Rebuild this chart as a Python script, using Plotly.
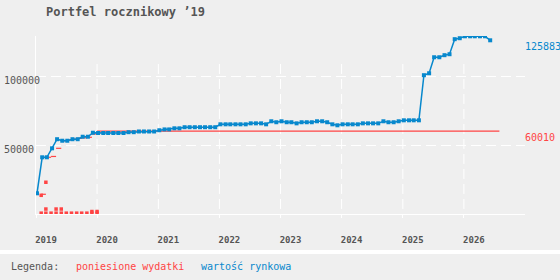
import pandas as pd
import plotly.graph_objects as go

# ---------------- data ----------------
title_text = "Portfel rocznikowy ’19"
name_spent = "poniesione wydatki"
name_value = "wartość rynkowa"
legend_label = "Legenda:"

x_tick_labels = ["2019", "2020", "2021", "2022", "2023", "2024", "2025", "2026"]
y_tick_values = [50000, 100000]
y_tick_labels = ["50000", "100000"]

# market value, monthly from Jan 2019
market_values = [
    15000, 41100, 41100, 47600, 54200, 53100, 53100, 54200, 54200, 56000, 56000, 58900,
    58700, 58700, 58700, 58700, 58700, 58700, 59300, 59300, 59800, 59800, 59800, 59800,
    60700, 61300, 61300, 62100, 62100, 62900, 62900, 62900, 62900, 62900, 62900, 62900,
    65000, 65000, 65000, 65000, 65000, 65000, 65700, 65700, 65700, 65000, 67200, 66500,
    67200, 66500, 66500, 65700, 66500, 66500, 66500, 67200, 67200, 66500, 65000, 64300,
    65000, 65000, 65000, 65000, 65700, 65700, 65700, 65700, 67200, 66500, 66500, 67200,
    67900, 67900, 67900, 67900, 100600, 102000, 113600, 113600, 115100, 115800, 126700, 127400,
    128800, 128800, 128800, 128800, 128800, 125883,
]
market_dates = pd.date_range("2019-01-01", periods=len(market_values), freq="MS") + pd.Timedelta(days=6)

# individual expenses
expense_dates = [
    "2019-02-01", "2019-02-01",
    "2019-03-01", "2019-03-01", "2019-03-01",
    "2019-04-01",
    "2019-05-01", "2019-05-01",
    "2019-06-01", "2019-06-01",
    "2019-07-01", "2019-08-01", "2019-09-01", "2019-10-01", "2019-11-01",
    "2019-12-01", "2019-12-01",
    "2020-01-01", "2020-01-01",
]
expense_amounts = [
    13550, 600,
    23000, 3600, 600,
    600,
    3600, 600,
    3600, 600,
    600, 600, 600, 600, 600,
    600, 1800,
    600, 1800,
]

# cumulative expenses (step line)
cum_dates = [
    "2019-02-01", "2019-03-01", "2019-04-01", "2019-05-01", "2019-06-01", "2019-07-01",
    "2019-08-01", "2019-09-01", "2019-10-01", "2019-11-01", "2019-12-01", "2020-01-01",
    "2026-08-01",
]
cum_values = [14300, 41100, 41700, 47600, 53100, 53700, 54300, 54800, 55200, 55600, 58000, 60010, 60010]

# ---------------- style ----------------
BG = "#efefef"
BLUE = "#0788cd"
RED = "#ff4444"
GRAY = "#555555"
FONT = "DejaVu Sans Mono"
L, R, T, B = 36, 35, 36, 66
W, H = 560, 280
PW, PH = W - L - R, H - T - B


def px_x(px):
    return (px - L) / PW


def px_y(py):
    return (T + PH - py) / PH


# horizontal-only step segments for cumulative expenses
step_x, step_y = [], []
for i in range(len(cum_dates) - 1):
    step_x += [cum_dates[i], cum_dates[i + 1], None]
    step_y += [cum_values[i], cum_values[i], None]

fig = go.Figure()
fig.add_trace(go.Scatter(
    x=step_x, y=step_y, mode="lines", name=name_spent,
    line=dict(color=RED, width=1.2), hoverinfo="skip",
))
fig.add_trace(go.Scatter(
    x=expense_dates, y=expense_amounts, mode="markers", name=name_spent,
    marker=dict(symbol="square", size=3.5, color=RED, line=dict(width=0)),
))
fig.add_trace(go.Scatter(
    x=market_dates, y=market_values, mode="lines+markers", name=name_value,
    line=dict(color=BLUE, width=1.5),
    marker=dict(symbol="square", size=4, color=BLUE, line=dict(width=0)),
))

# vertical grid lines (stop below top of axis)
for lab in x_tick_labels[1:]:
    fig.add_shape(type="line", xref="x", yref="y",
                  x0=f"{lab}-01-01", x1=f"{lab}-01-01", y0=108750, y1=0,
                  line=dict(color="white", width=1, dash="10px,5px"), layer="below")

# white separator above legend strip
fig.add_shape(type="rect", xref="paper", yref="paper",
              x0=px_x(0), x1=px_x(W), y0=px_y(254), y1=px_y(250),
              fillcolor="white", line=dict(width=0), layer="below")

ann = []
for v, t in zip(y_tick_values, y_tick_labels):
    ann.append(dict(x=0, xref="paper", y=v, yref="y", text=t, showarrow=False,
                    xanchor="left", xshift=-34, yshift=-4,
                    font=dict(family=FONT, size=10, color=GRAY)))
ann.append(dict(x=1, xref="paper", y=market_values[-1], yref="y", text=str(market_values[-1]),
                showarrow=False, xanchor="left", xshift=-2, yshift=-6.5,
                font=dict(family=FONT, size=10, color=BLUE)))
ann.append(dict(x=1, xref="paper", y=cum_values[-1], yref="y", text=str(cum_values[-1]),
                showarrow=False, xanchor="left", xshift=-2, yshift=-6.5,
                font=dict(family=FONT, size=10, color=RED)))
for txt, px, col in [(legend_label, 9, GRAY), (name_spent, 74, RED), (name_value, 199, BLUE)]:
    ann.append(dict(x=px_x(px), xref="paper", y=px_y(266), yref="paper", text=txt,
                    showarrow=False, xanchor="left", yanchor="middle",
                    font=dict(family=FONT, size=10, color=col)))

fig.update_layout(
    width=W, height=H,
    margin=dict(l=L, r=R, t=T, b=B, pad=0),
    paper_bgcolor=BG, plot_bgcolor=BG,
    showlegend=False,
    title=dict(text=title_text, xref="container", yref="container",
               x=46 / W, xanchor="left", y=1 - 12 / H, yanchor="middle",
               font=dict(family=FONT, size=12, color=GRAY, weight="bold")),
    annotations=ann,
    xaxis=dict(
        type="date", range=["2019-01-01", "2027-01-01"],
        tickvals=[f"{y}-01-01" for y in x_tick_labels], ticktext=x_tick_labels,
        showgrid=False, zeroline=False,
        showline=True, linecolor="white", linewidth=1,
        ticks="outside", ticklen=3, tickcolor="white", tickwidth=1,
        tickfont=dict(family=FONT, size=9, color=GRAY, weight="bold"),
        ticklabelshift=10, ticklabelstandoff=14,
        layer="below traces",
    ),
    yaxis=dict(
        range=[0, 129000], tickvals=y_tick_values, showticklabels=False,
        showgrid=True, gridcolor="white", gridwidth=1, griddash="10px,5px",
        zeroline=False, showline=True, linecolor="white", linewidth=1,
        ticks="", layer="below traces",
    ),
)

fig.write_html("out.html")
